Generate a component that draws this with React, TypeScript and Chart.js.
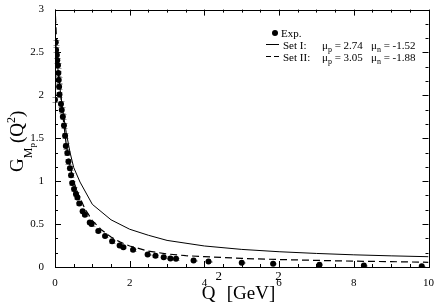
import { useEffect, useRef } from "react";
import { Chart, registerables } from "chart.js";

Chart.register(...registerables);

// ---- data ----
const expQ2 = [
  0.0, 0.02, 0.03, 0.05, 0.06, 0.08, 0.09, 0.1, 0.11, 0.12, 0.16, 0.18, 0.21, 0.24,
  0.27, 0.29, 0.33, 0.36, 0.4, 0.43, 0.46, 0.51, 0.56, 0.6, 0.65, 0.74, 0.8, 0.93,
  0.98, 1.16, 1.34, 1.53, 1.73, 1.83, 2.09, 2.48, 2.69, 2.91, 3.09, 3.24, 3.71,
  4.11, 5.0, 5.84, 7.08, 8.27, 9.82,
];
const expG = [
  1.95, 2.62, 2.53, 2.47, 2.41, 2.35, 2.26, 2.18, 2.1, 2.01, 1.9, 1.83, 1.75, 1.65,
  1.53, 1.41, 1.33, 1.23, 1.15, 1.07, 0.98, 0.91, 0.85, 0.81, 0.74, 0.65, 0.61, 0.52,
  0.5, 0.42, 0.36, 0.3, 0.25, 0.23, 0.2, 0.145, 0.13, 0.115, 0.1, 0.095, 0.077,
  0.065, 0.05, 0.038, 0.025, 0.017, 0.01,
];
const expErr = [
  0.03, 0.03, 0.03, 0.03, 0.03, 0.03, 0.03, 0.03, 0.03, 0.03, 0.03, 0.03, 0.03, 0.03,
  0.03, 0.03, 0.025, 0.025, 0.025, 0.025, 0.025, 0.02, 0.02, 0.02, 0.02, 0.02, 0.02, 0.02,
  0.02, 0.015, 0.015, 0.015, 0.012, 0.012, 0.012, 0.01, 0.01, 0.01, 0.01, 0.01, 0.008,
  0.008, 0.006, 0.006, 0.005, 0.005, 0.005,
];

const set1Q2 = [0, 0.05, 0.1, 0.2, 0.3, 0.4, 0.5, 0.67, 1.0, 1.5, 2, 2.5, 3, 4, 5, 6, 7, 8, 9, 10];
const set1G = [2.74, 2.45, 2.2, 1.85, 1.57, 1.34, 1.16, 0.99, 0.73, 0.55, 0.44, 0.37, 0.31, 0.245, 0.205, 0.178, 0.158, 0.142, 0.13, 0.12];

const set2Q2 = [0, 0.05, 0.1, 0.2, 0.3, 0.4, 0.5, 0.6, 0.8, 1.0, 1.25, 1.5, 1.75, 2, 2.5, 3, 3.5, 4, 5, 6, 7, 8, 9, 10];
const set2G = [3.05, 2.55, 2.25, 1.8, 1.43, 1.18, 1.0, 0.87, 0.68, 0.54, 0.43, 0.35, 0.29, 0.245, 0.185, 0.152, 0.132, 0.12, 0.1, 0.087, 0.077, 0.068, 0.062, 0.055];

const xTickStep = 2;
const yTickStep = 0.5;
const legendLabels = ["Exp.", "Set I:", "Set II:"];
const muPValues = ["2.74", "3.05"];
const muNValues = ["-1.52", "-1.88"];

const SERIF = '"Liberation Serif", "Times New Roman", serif';

type Seg = { t: string; size: number; dy: number };

function drawSegs(ctx: CanvasRenderingContext2D, segs: Seg[], cx: number, baseY: number) {
  let total = 0;
  for (const s of segs) {
    ctx.font = `${s.size}px ${SERIF}`;
    total += ctx.measureText(s.t).width;
  }
  let x = cx - total / 2;
  ctx.textAlign = "left";
  ctx.textBaseline = "alphabetic";
  for (const s of segs) {
    ctx.font = `${s.size}px ${SERIF}`;
    ctx.fillText(s.t, x, baseY + s.dy);
    x += ctx.measureText(s.t).width;
  }
}

function drawRun(ctx: CanvasRenderingContext2D, segs: Seg[], x0: number, baseY: number) {
  let x = x0;
  ctx.textAlign = "left";
  ctx.textBaseline = "alphabetic";
  for (const s of segs) {
    ctx.font = `${s.size}px ${SERIF}`;
    ctx.fillText(s.t, x, baseY + s.dy);
    x += ctx.measureText(s.t).width;
  }
  return x;
}

const decorPlugin = {
  id: "decor",
  beforeDatasetsDraw(chart: any) {
    const { ctx, scales } = chart;
    const xs = scales.x;
    const ys = scales.y;
    ctx.save();
    ctx.strokeStyle = "#9a9a9a";
    ctx.lineWidth = 1;
    for (let i = 0; i < expQ2.length; i++) {
      const px = Math.round(xs.getPixelForValue(expQ2[i])) + 0.5;
      const pTop = ys.getPixelForValue(expG[i] + expErr[i]);
      const pBot = ys.getPixelForValue(expG[i] - expErr[i]);
      ctx.beginPath();
      ctx.moveTo(px, pTop);
      ctx.lineTo(px, pBot);
      ctx.moveTo(px - 3, Math.round(pTop) + 0.5);
      ctx.lineTo(px + 3, Math.round(pTop) + 0.5);
      ctx.moveTo(px - 3, Math.round(pBot) + 0.5);
      ctx.lineTo(px + 3, Math.round(pBot) + 0.5);
      ctx.stroke();
    }
    ctx.restore();
  },
  afterDraw(chart: any) {
    const { ctx, chartArea, scales } = chart;
    const xs = scales.x;
    const ys = scales.y;
    const { left, right, top, bottom } = chartArea;
    ctx.save();
    // frame
    ctx.strokeStyle = "#000";
    ctx.lineWidth = 1;
    ctx.strokeRect(Math.round(left) + 0.5, Math.round(top) + 0.5, Math.round(right - left), Math.round(bottom - top));

    // inward ticks
    ctx.beginPath();
    for (let i = 0; i <= 20; i++) {
      const v = i * 0.5;
      const len = i % 4 === 0 ? 6 : 3;
      const px = Math.round(xs.getPixelForValue(v)) + 0.5;
      ctx.moveTo(px, bottom);
      ctx.lineTo(px, bottom - len);
      ctx.moveTo(px, top);
      ctx.lineTo(px, top + len);
    }
    for (let i = 0; i <= 18; i++) {
      const v = i / 6;
      const len = i % 3 === 0 ? 6 : 3;
      const py = Math.round(ys.getPixelForValue(v)) + 0.5;
      ctx.moveTo(left, py);
      ctx.lineTo(left + len, py);
      ctx.moveTo(right, py);
      ctx.lineTo(right - len, py);
    }
    ctx.stroke();

    ctx.fillStyle = "#000";
    // x title
    drawSegs(
      ctx,
      [
        { t: "Q", size: 19, dy: 0 },
        { t: "2", size: 13, dy: -19 },
        { t: " [GeV]", size: 19, dy: 0 },
        { t: "2", size: 13, dy: -19 },
      ],
      (left + right) / 2,
      299
    );

    // y title (rotated)
    ctx.save();
    ctx.translate(23, 0);
    ctx.rotate(-Math.PI / 2);
    drawSegs(
      ctx,
      [
        { t: "G", size: 19, dy: 0 },
        { t: "M", size: 12, dy: 9 },
        { t: "p", size: 9, dy: 12 },
        { t: "(Q", size: 19, dy: 0 },
        { t: "2", size: 12, dy: -8 },
        { t: ")", size: 19, dy: 0 },
      ],
      -((top + bottom) / 2 + 3),
      0
    );
    ctx.restore();

    // legend
    const lx = 266;
    ctx.beginPath();
    ctx.arc(275, 33, 3, 0, Math.PI * 2);
    ctx.fill();
    drawRun(ctx, [{ t: legendLabels[0], size: 11, dy: 0 }], 281, 37);

    ctx.lineWidth = 1;
    ctx.beginPath();
    ctx.moveTo(lx, 44.5);
    ctx.lineTo(lx + 13, 44.5);
    ctx.stroke();
    ctx.beginPath();
    ctx.setLineDash([5, 3]);
    ctx.moveTo(lx, 56.5);
    ctx.lineTo(lx + 13, 56.5);
    ctx.stroke();
    ctx.setLineDash([]);

    const rows = [48.5, 60.5];
    for (let r = 0; r < 2; r++) {
      const by = rows[r];
      drawRun(ctx, [{ t: legendLabels[r + 1], size: 11, dy: 0 }], 283, by);
      drawRun(
        ctx,
        [
          { t: "\u03bc", size: 11, dy: 0 },
          { t: "p", size: 8, dy: 3 },
          { t: " = " + muPValues[r], size: 11, dy: 0 },
        ],
        322,
        by
      );
      drawRun(
        ctx,
        [
          { t: "\u03bc", size: 11, dy: 0 },
          { t: "n", size: 8, dy: 3 },
          { t: " = " + muNValues[r], size: 11, dy: 0 },
        ],
        371,
        by
      );
    }
    ctx.restore();
  },
};

const fmt = (v: any) => String(Math.round(Number(v) * 100) / 100);

export default function App() {
  const ref = useRef<HTMLCanvasElement | null>(null);
  useEffect(() => {
    document.body.style.margin = "0";
    const canvas = ref.current;
    if (!canvas) return;
    const chart = new Chart(canvas, {
      type: "scatter",
      data: {
        datasets: [
          {
            label: "Set I",
            data: set1Q2.map((x, i) => ({ x, y: set1G[i] })),
            showLine: true,
            borderColor: "#000",
            borderWidth: 1,
            pointRadius: 0,
            tension: 0,
          },
          {
            label: "Set II",
            data: set2Q2.map((x, i) => ({ x, y: set2G[i] })),
            showLine: true,
            borderColor: "#000",
            borderWidth: 1.2,
            borderDash: [7, 4],
            pointRadius: 0,
            tension: 0,
          },
          {
            label: "Exp.",
            data: expQ2.map((x, i) => ({ x, y: expG[i] })),
            showLine: false,
            pointRadius: 3,
            pointBackgroundColor: "#000",
            pointBorderColor: "#000",
            pointBorderWidth: 0,
          },
        ],
      },
      options: {
        responsive: false,
        animation: false,
        devicePixelRatio: 1,
        layout: { padding: { top: 5, right: 6, left: 0, bottom: 0 } },
        plugins: { legend: { display: false }, tooltip: { enabled: false } },
        scales: {
          x: {
            type: "linear",
            min: 0,
            max: 10,
            afterFit: (s: any) => {
              s.height = 39;
            },
            grid: { display: false },
            border: { display: false },
            ticks: {
              stepSize: xTickStep,
              color: "#000",
              padding: 2,
              maxRotation: 0,
              font: { family: SERIF, size: 11 },
              callback: fmt,
            },
          },
          y: {
            type: "linear",
            min: 0,
            max: 3,
            afterFit: (s: any) => {
              s.width = 55;
            },
            grid: { display: false },
            border: { display: false },
            ticks: {
              stepSize: yTickStep,
              color: "#000",
              padding: 3,
              font: { family: SERIF, size: 11 },
              callback: fmt,
            },
          },
        },
      },
      plugins: [decorPlugin],
    });
    return () => chart.destroy();
  }, []);
  return (
    <canvas ref={ref} width={436} height={306} style={{ display: "block", width: 436, height: 306 }} />
  );
}
